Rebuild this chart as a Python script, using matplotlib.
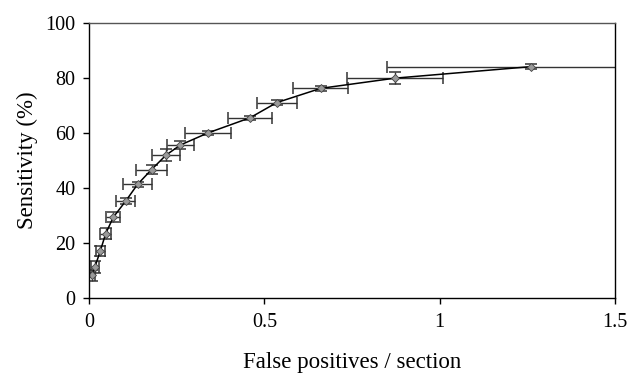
import matplotlib.pyplot as plt
import numpy as np

# FROC points
fp_per_section = [0.007, 0.016, 0.032, 0.047, 0.069, 0.104, 0.138, 0.178, 0.219,
                  0.260, 0.339, 0.459, 0.535, 0.661, 0.873, 1.262]
sensitivity = [8.3, 11.2, 17.2, 23.4, 29.4, 35.2, 41.3, 46.7, 51.9,
               55.6, 60.0, 65.5, 71.0, 76.2, 79.9, 84.1]
fp_err = [0.010, 0.012, 0.012, 0.015, 0.020, 0.028, 0.042, 0.044, 0.039,
          0.039, 0.066, 0.064, 0.057, 0.078, 0.138, 0.411]
sens_err = [2.0, 2.2, 1.8, 2.0, 1.8, 1.0, 1.0, 1.8, 2.2,
            1.5, 0.8, 0.8, 1.0, 1.0, 2.3, 1.0]

plt.rcParams['font.family'] = ['Liberation Serif', 'DejaVu Serif']

fig = plt.figure(figsize=(6.28, 3.74), dpi=100)
ax = fig.add_axes([0.142, 0.203, 0.837, 0.736])

ax.errorbar(fp_per_section, sensitivity, xerr=fp_err, yerr=sens_err,
            fmt='none', ecolor='#333333', elinewidth=1.0, capsize=4, capthick=1.1)
ax.plot(fp_per_section, sensitivity, color='black', lw=1.1,
        marker='D', markersize=4.5, markerfacecolor='#9a9a9a',
        markeredgecolor='#444444', markeredgewidth=0.6)

ax.set_xlim(0, 1.5)
ax.set_ylim(0, 100)
ax.set_xticks([0, 0.5, 1, 1.5], ['0', '0.5', '1', '1.5'])
ax.set_yticks([0, 20, 40, 60, 80, 100])
ax.tick_params(labelsize=14.5, direction='out', length=4, width=1)
ax.tick_params(axis='x', pad=7)
ax.tick_params(axis='y', pad=6)
for s in ax.spines.values():
    s.set_linewidth(1.0)
ax.spines['top'].set_color('#555555')

ax.set_xlabel('False positives / section', fontsize=16.5, labelpad=14)
ax.set_ylabel('Sensitivity (%)', fontsize=16.5, labelpad=5)

plt.savefig('out.png', dpi=100)
